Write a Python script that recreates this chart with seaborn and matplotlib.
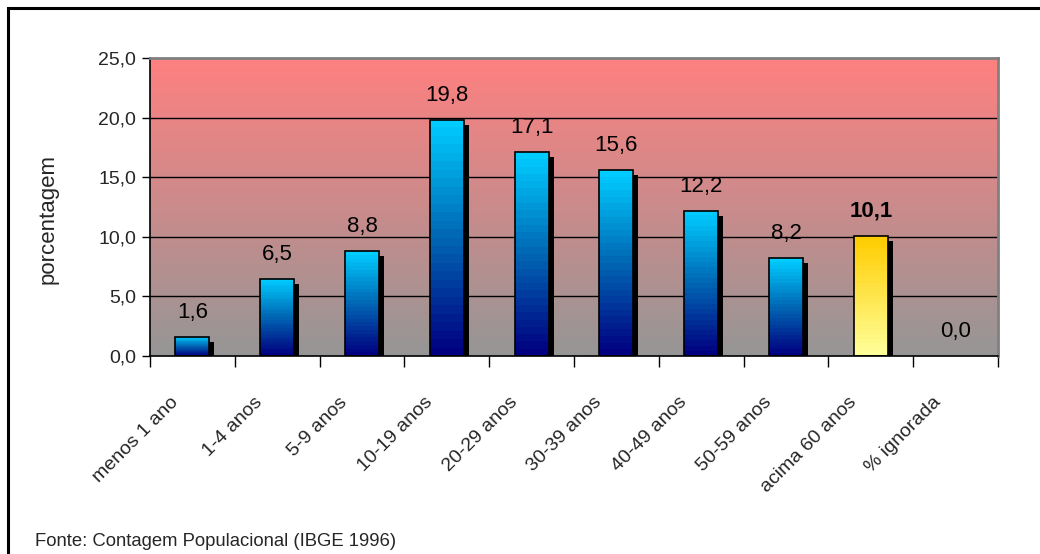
import numpy as np
import pandas as pd
import matplotlib
matplotlib.use("Agg")
import matplotlib.pyplot as plt
import matplotlib.transforms as mtransforms
from matplotlib.colors import LinearSegmentedColormap
from matplotlib.patches import Rectangle
import seaborn as sns

# Age groups and share of population (%)
categories = ["menos 1 ano", "1-4 anos", "5-9 anos", "10-19 anos", "20-29 anos",
              "30-39 anos", "40-49 anos", "50-59 anos", "acima 60 anos", "% ignorada"]
values = [1.6, 6.5, 8.8, 19.8, 17.1, 15.6, 12.2, 8.2, 10.1, 0.0]
highlight = "acima 60 anos"

sns.set_theme(style="white")
plt.rcParams["font.family"] = ["Liberation Sans", "DejaVu Sans"]

df = pd.DataFrame({"faixa": categories, "pct": values})

fig = plt.figure(figsize=(10.4, 5.54), dpi=100)
ax = fig.add_axes([150 / 1040, 1 - 356 / 554, 848 / 1040, 298 / 554])

sns.barplot(data=df, x="faixa", y="pct", ax=ax, width=0.4,
            color="white", saturation=1, linewidth=1.2, edgecolor="black",
            zorder=4)

ax.set_ylim(0, 25)
ax.set_xlim(-0.5, len(categories) - 0.5)

# Plot-area background: red fading to grey
bg_cmap = LinearSegmentedColormap.from_list("bg", ["#969696", "#FF8080"])
grad = np.linspace(0, 1, 256).reshape(-1, 1)
ax.imshow(grad, cmap=bg_cmap, origin="lower", aspect="auto",
          extent=[-0.5, len(categories) - 0.5, 0, 25], zorder=0)

# Horizontal gridlines
for yv in [5, 10, 15, 20]:
    ax.axhline(yv, color="black", lw=1.0, zorder=1)

blue_cmap = LinearSegmentedColormap.from_list("blue", ["#000080", "#0066B3", "#00CCFF"])
gold_cmap = LinearSegmentedColormap.from_list("gold", ["#FFFF99", "#FFCC00"])
shadow_offset = mtransforms.ScaledTranslation(5 / 100, -5 / 100, fig.dpi_scale_trans)

for patch, cat, val in zip(ax.patches, categories, values):
    x0, y0 = patch.get_x(), patch.get_y()
    w, h = patch.get_width(), patch.get_height()
    patch.set_facecolor("none")
    if h <= 0:
        patch.set_visible(False)
        continue
    shadow = Rectangle((x0, y0), w, h, facecolor="black", edgecolor="none",
                       transform=ax.transData + shadow_offset, zorder=2)
    ax.add_patch(shadow)
    cmap = gold_cmap if cat == highlight else blue_cmap
    bands = np.linspace(0, 1, 28).reshape(-1, 1)
    img = ax.imshow(bands, cmap=cmap, origin="lower", aspect="auto",
                    extent=[x0, x0 + w, y0, y0 + h], zorder=3,
                    interpolation="nearest")
    img.set_clip_path(patch)

ax.set_xlim(-0.5, len(categories) - 0.5)
ax.set_ylim(0, 25)

# Value labels
for i, (cat, val) in enumerate(zip(categories, values)):
    txt = f"{val:.1f}".replace(".", ",")
    ax.annotate(txt, (i, val), xytext=(0, 10), textcoords="offset points",
                ha="center", va="bottom", fontsize=16, color="black",
                fontweight="bold" if cat == highlight else "normal", zorder=6)

# Axes styling
for side in ["left", "bottom"]:
    ax.spines[side].set_color("black")
    ax.spines[side].set_linewidth(1.2)
for side in ["top", "right"]:
    ax.spines[side].set_color("#808080")
    ax.spines[side].set_linewidth(2)
ax.spines["bottom"].set_zorder(7)

ax.set_yticks([0, 5, 10, 15, 20, 25])
ax.set_yticklabels([f"{v:.1f}".replace(".", ",") for v in [0, 5, 10, 15, 20, 25]],
                   fontsize=14)
ax.tick_params(axis="y", which="major", direction="out", length=6, width=1,
               color="black", pad=4, left=True)

ax.set_xticks(range(len(categories)))
ax.set_xticklabels(categories, rotation=45, ha="right", va="top",
                   rotation_mode="anchor", fontsize=14)
ax.tick_params(axis="x", which="major", length=0, pad=27)
for lbl in ax.get_xticklabels():
    lbl.set_transform(lbl.get_transform() +
                      mtransforms.ScaledTranslation(-23 / 100, 0, fig.dpi_scale_trans))
ax.set_xticks(np.arange(-0.5, len(categories), 1), minor=True)
ax.tick_params(axis="x", which="minor", direction="out", length=8, width=1,
               color="black", bottom=True)

ax.set_xlabel("")
ax.set_ylabel("porcentagem", fontsize=16)
ax.yaxis.set_label_coords(-0.108, 0.46)

# Outer frame and source note
fig.patches.append(Rectangle((8 / 1040, -0.1), 1.2, 1 - 8 / 554 + 0.1,
                             transform=fig.transFigure, fill=False,
                             edgecolor="black", linewidth=2.2))
fig.text(35 / 1040, 1 - 541 / 554, "Fonte: Contagem Populacional (IBGE 1996)",
         fontsize=13.3, va="center", ha="left")

fig.savefig("out.png", dpi=100)
